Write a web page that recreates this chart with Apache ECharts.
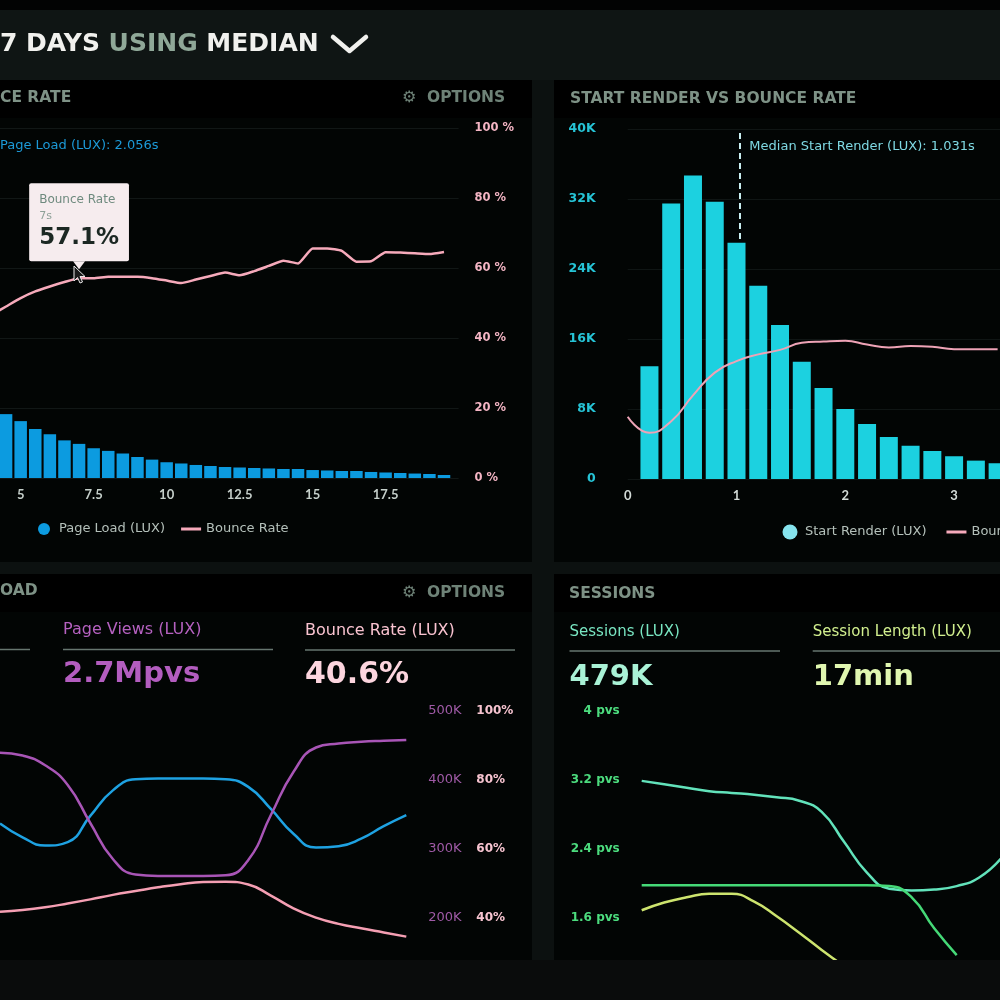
<!DOCTYPE html>
<html>
<head>
<meta charset="utf-8">
<script src="https://cdn.jsdelivr.net/npm/echarts@6.0.0/dist/echarts.min.js"></script>
<style>
html,body{margin:0;padding:0;background:#0c1110;}
#chart{width:1000px;height:1000px;}
</style>
</head>
<body>
<div id="chart"></div>
<script>
// ---------- Top-left: Page Load (LUX) distribution vs Bounce Rate ----------
const loadBins = [4.5,5,5.5,6,6.5,7,7.5,8,8.5,9,9.5,10,10.5,11,11.5,12,12.5,13,13.5,14,14.5,15,15.5,16,16.5,17,17.5,18,18.5,19,19.5];
const pageLoadsK = [7.3,6.5,5.6,5.0,4.3,3.9,3.4,3.1,2.8,2.4,2.1,1.8,1.66,1.49,1.37,1.26,1.2,1.14,1.09,1.03,1.03,0.91,0.86,0.8,0.8,0.69,0.63,0.57,0.51,0.46,0.34];
const bounceLoadSec = [4,4.5,5,5.5,6,6.5,7,7.5,8,8.5,9,9.5,10,10.5,11,11.5,12,12.5,13,13.5,14,14.5,15,15.5,16,16.5,17,17.5,18,18.5,19,19.5];
const bounceByLoad = [46.6,49.0,51.4,53.3,54.7,56.0,57.1,57.1,57.5,57.5,57.5,57.1,56.4,55.7,56.7,57.7,58.7,57.9,59.1,60.6,62.1,61.3,65.6,65.6,64.9,61.8,61.9,64.5,64.4,64.2,64.0,64.6];
const medianPageLoad = 2.056;
const tipSecond = 7;

// ---------- Top-right: Start Render vs Bounce Rate ----------
const startBins = [0.2,0.4,0.6,0.8,1.0,1.2,1.4,1.6,1.8,2.0,2.2,2.4,2.6,2.8,3.0,3.2,3.4];
const startRenderK = [12.9,31.5,34.7,31.7,27.0,22.1,17.6,13.4,10.4,8.0,6.3,4.8,3.8,3.2,2.6,2.1,1.8];
const bounceStartSec = [0,0.2,0.4,0.6,0.8,1.0,1.2,1.4,1.6,1.8,2.0,2.2,2.4,2.6,2.8,3.0,3.2,3.4];
const bounceByStart = [17.8,13.2,16.5,23.9,30.4,33.7,35.6,36.9,38.9,39.3,39.5,38.4,37.6,38.0,37.8,37.1,37.1,37.1];
const medianStartRender = 1.031;

// ---------- Bottom-left: Page Load / Page Views / Bounce Rate over time ----------
const periodsA = ['1','2','3','4','5','6','7','8','9','10','11','12','13','14','15','16','17','18','19'];
const pageLoadTrend = [2.37,2.17,2.05,2.10,2.48,2.85,3.01,3.02,3.02,3.02,3.01,2.90,2.58,2.22,2.02,2.04,2.15,2.33,2.49];
const pageViewsK = [439.6,435.5,421.3,392.8,337.7,285.5,263.0,260.9,260.9,260.9,261.9,284.1,349.3,411.6,447.1,452.9,455.4,456.8,458.0];
const bounceTrend = [41.8,42.3,43.1,44.2,45.4,46.7,47.8,48.9,49.8,50.4,50.5,49.7,46.5,42.8,40.1,38.3,37.0,35.8,34.6];
const kpiPageViews = '2.7Mpvs';
const kpiBounce = '40.6%';

// ---------- Bottom-right: Sessions ----------
const periodsB = ['1','2','3','4','5','6','7','8','9','10','11','12','13','14','15','16','17'];
const sessionsTrend = [3.19,3.15,3.11,3.07,3.05,3.03,3.00,2.96,2.83,2.48,2.13,1.94,1.92,1.93,1.97,2.07,2.30];
const pvsTrend = [1.98,1.98,1.98,1.98,1.98,1.98,1.98,1.98,1.98,1.98,1.98,1.97,1.84,1.48,1.17,null,null];
const sessionLengthTrend = [1.69,1.78,1.84,1.88,1.88,1.79,1.62,1.43,1.23,1.04,null,null,null,null,null,null,null];
const kpiSessions = '479K';
const kpiSessionLength = '17min';

const F = 'DejaVu Sans';
const pairs = (xs, ys) => xs.map((x, i) => [x, ys[i]]);
const tipValue = bounceByLoad[bounceLoadSec.indexOf(tipSecond)];

function T(x, y, text, size, color, weight, extra) {
  return Object.assign({
    type: 'text', x: x, y: y, z: 20,
    style: { text: text, fontSize: size, fontFamily: F, fontWeight: weight || 'normal', fill: color, verticalAlign: 'middle', align: 'left' }
  }, extra || {});
}
function R(x, y, w, h, fill, z) {
  return { type: 'rect', z: z == null ? -10 : z, shape: { x: x, y: y, width: w, height: h }, style: { fill: fill } };
}
function L(x1, y1, x2, y2, color, w) {
  return { type: 'line', z: 20, shape: { x1: x1, y1: y1, x2: x2, y2: y2 }, style: { stroke: color, lineWidth: w || 1.5 } };
}

const hdr = '#7e9286', opt = '#6e8277', ul = '#66766f';
const graphics = [
  R(0, 0, 1000, 1000, '#0c1110', -20),
  R(0, 0, 1000, 10, '#020303'),
  R(0, 10, 1000, 70, '#0f1514'),
  // panels
  R(0, 80, 532, 482, '#020504'), R(0, 80, 532, 38, '#000000'),
  R(554, 80, 446, 482, '#020504'), R(554, 80, 446, 38, '#000000'),
  R(0, 574, 532, 386, '#020504'), R(0, 574, 532, 38, '#000000'),
  R(554, 574, 446, 386, '#020504'), R(554, 574, 446, 38, '#000000'),
  // bottom strip overlay (clips lines leaving the panels)
  R(0, 960, 1000, 40, '#0a0c0c', 100),
  // page title
  { type: 'text', x: 0, y: 44, z: 20, style: {
      text: '{w|7 DAYS }{g|USING }{w|MEDIAN}', verticalAlign: 'middle',
      rich: {
        w: { fontSize: 25, fontWeight: 'bold', fontFamily: F, fill: '#f1f1ee' },
        g: { fontSize: 25, fontWeight: 'bold', fontFamily: F, fill: '#8fa898' }
      } } },
  { type: 'polyline', z: 20, shape: { points: [[333, 37], [349.5, 51], [366, 37]] },
    style: { stroke: '#f1f1ee', lineWidth: 4.5, fill: null, lineCap: 'round', lineJoin: 'round' } },
  // mouse cursor over the hovered point
  { type: 'polygon', z: 60, shape: { points: [[74, 266], [74, 281], [77.5, 277.5], [80, 283], [82.5, 282], [80, 276.5], [85, 276.5]] },
    style: { fill: '#1a1a1a', stroke: '#e8e8e8', lineWidth: 1 } },
  // panel headers
  T(0, 98, 'CE RATE', 15.5, hdr, 'bold'),
  T(402, 98, '\u2699', 16, opt, 'bold'), T(427, 98, 'OPTIONS', 15.5, opt, 'bold'),
  T(570, 99, 'START RENDER VS BOUNCE RATE', 15.5, hdr, 'bold'),
  T(0, 591, 'OAD', 15.5, hdr, 'bold'),
  T(402, 593, '\u2699', 16, opt, 'bold'), T(427, 593, 'OPTIONS', 15.5, opt, 'bold'),
  T(569, 593.5, 'SESSIONS', 15.5, hdr, 'bold'),
  // top-left annotation
  T(0, 145.5, 'Page Load (LUX): ' + medianPageLoad + 's', 13, '#1c9ad8'),
  // bottom-left KPIs
  L(0, 649.5, 30, 649.5, ul),
  T(63, 630, 'Page Views (LUX)', 16, '#b561c0'),
  L(63, 649.5, 273, 649.5, ul),
  T(63, 674.5, kpiPageViews, 29, '#b35dbf', 'bold'),
  T(305, 631, 'Bounce Rate (LUX)', 16, '#f9c3d0'),
  L(305, 650, 515, 650, ul),
  T(305, 675, kpiBounce, 30, '#fcd5de', 'bold'),
  // bottom-right KPIs
  T(569.5, 632, 'Sessions (LUX)', 15, '#79e6c2'),
  L(569.5, 651, 780, 651, ul),
  T(569.5, 677.5, kpiSessions, 29, '#a9f2d6', 'bold'),
  T(812.7, 632, 'Session Length (LUX)', 15, '#d2f08f'),
  L(812.7, 651, 1000, 651, ul),
  T(812.7, 677.5, kpiSessionLength, 29, '#e0f7b0', 'bold')
];

const noAxisLine = { show: false };
const option = {
  backgroundColor: '#0c1110',
  animation: false,
  graphic: { elements: graphics },
  legend: [
    {
      left: 33, top: 517.5, width: 420, itemWidth: 20, itemHeight: 12, itemGap: 16,
      textStyle: { color: '#b4c0ba', fontSize: 13, fontFamily: F },
      data: [
        { name: 'Page Load (LUX)', icon: 'circle', itemStyle: { color: '#0c9be0' } },
        { name: 'Bounce Rate', icon: 'path://M0,0H20V3H0Z', itemStyle: { color: '#f6aabb' } }
      ]
    },
    {
      left: 777.5, top: 519.5, width: 420, itemWidth: 20, itemHeight: 15, itemGap: 20,
      textStyle: { color: '#b4c0ba', fontSize: 13, fontFamily: F },
      data: [
        { name: 'Start Render (LUX)', icon: 'circle', itemStyle: { color: '#86e4ee' } },
        { name: 'Bounce Rate', icon: 'path://M0,0H20V3H0Z', itemStyle: { color: '#f6aabb' } }
      ]
    }
  ],
  grid: [
    { left: -125.3, right: 541.4, top: 128, bottom: 522, outerBoundsMode: 'none' },
    { left: 627.7, right: -62.9, top: 129, bottom: 521, outerBoundsMode: 'none' },
    { left: 0, right: 593.7, top: 711, bottom: 13, outerBoundsMode: 'none' },
    { left: 641.7, right: -1.7, top: 711, bottom: 13, outerBoundsMode: 'none' }
  ],
  xAxis: [
    { gridIndex: 0, type: 'value', min: 0, max: 20, interval: 2.5,
      axisLine: noAxisLine, axisTick: { show: false }, splitLine: { show: false },
      axisLabel: { color: '#c5cfca', fontFamily: 'Lato', fontWeight: 'bold', fontSize: 13, margin: 10, showMaxLabel: false } },
    { gridIndex: 1, type: 'value', min: 0, max: 4, interval: 1,
      axisLine: noAxisLine, axisTick: { show: false }, splitLine: { show: false },
      axisLabel: { color: '#d3dbd7', fontFamily: 'Lato', fontWeight: 'bold', fontSize: 13, margin: 10, showMaxLabel: false } },
    { gridIndex: 2, type: 'category', data: periodsA, boundaryGap: false, show: false },
    { gridIndex: 3, type: 'category', data: periodsB, boundaryGap: false, show: false }
  ],
  yAxis: [
    { gridIndex: 0, type: 'value', position: 'right', min: 0, max: 100, interval: 20,
      axisLine: noAxisLine, axisTick: { show: false },
      splitLine: { lineStyle: { color: '#111716', width: 1 } },
      axisLabel: { formatter: '{value} %', color: '#f4b5c4', fontFamily: F, fontWeight: 'bold', fontSize: 11.5, margin: 16 } },
    { gridIndex: 0, type: 'value', min: 0, max: 40, show: false },
    { gridIndex: 1, type: 'value', position: 'left', min: 0, max: 40, interval: 8,
      axisLine: noAxisLine, axisTick: { show: false },
      splitLine: { lineStyle: { color: '#0f1514', width: 1 } },
      axisLabel: { formatter: v => v === 0 ? '0' : v + 'K', color: '#26c4d6', fontFamily: F, fontWeight: 'bold', fontSize: 12.5, margin: 32 } },
    { gridIndex: 1, type: 'value', position: 'right', min: 0, max: 100, show: false },
    { gridIndex: 2, type: 'value', position: 'right', min: 100, max: 500, interval: 100,
      axisLine: noAxisLine, axisTick: { show: false }, splitLine: { show: false },
      axisLabel: { formatter: '{value}K', showMinLabel: false, color: '#9f5aa6', fontFamily: F, fontSize: 13, margin: 22 } },
    { gridIndex: 2, type: 'value', position: 'right', offset: 48, min: 20, max: 100, interval: 20,
      axisLine: noAxisLine, axisTick: { show: false }, splitLine: { show: false },
      axisLabel: { formatter: '{value}%', showMinLabel: false, color: '#f7c4d0', fontFamily: F, fontWeight: 'bold', fontSize: 12, margin: 22 } },
    { gridIndex: 2, type: 'value', min: 0, max: 4, show: false },
    { gridIndex: 3, type: 'value', position: 'left', min: 0.8, max: 4, interval: 0.8,
      axisLine: noAxisLine, axisTick: { show: false }, splitLine: { show: false },
      axisLabel: { formatter: v => Number(v.toFixed(1)) + ' pvs', showMinLabel: false, color: '#4cdc7e', fontFamily: F, fontWeight: 'bold', fontSize: 12, margin: 22 } }
  ],
  series: [
    { name: 'Page Load (LUX)', type: 'bar', xAxisIndex: 0, yAxisIndex: 1, barWidth: 12.5, z: 2,
      itemStyle: { color: '#0c9be0' }, data: pairs(loadBins, pageLoadsK) },
    { name: 'Bounce Rate', type: 'line', xAxisIndex: 0, yAxisIndex: 0, z: 3, smooth: 0.15,
      showSymbol: false, lineStyle: { color: '#f6aabb', width: 2.5 }, itemStyle: { color: '#f6aabb' },
      data: pairs(bounceLoadSec, bounceByLoad),
      markPoint: {
        z: 10, symbol: 'triangle', symbolRotate: 180, symbolSize: [12, 8], symbolOffset: [0, -13],
        itemStyle: { color: '#f6ecee' },
        label: {
          show: true, position: 'top', distance: 0,
          backgroundColor: '#f6ecee', borderRadius: 2, padding: [9, 10, 8, 10],
          formatter: () => '{a|Bounce Rate}\n{b|' + tipSecond + 's}\n{c|' + tipValue.toFixed(1) + '%}',
          rich: {
            a: { fontFamily: F, fontSize: 12, color: '#6e8a7e', lineHeight: 16, align: 'left' },
            b: { fontFamily: F, fontSize: 11, color: '#8ea198', lineHeight: 15, align: 'left' },
            c: { fontFamily: F, fontSize: 23, fontWeight: 'bold', color: '#1c2823', lineHeight: 30, align: 'left' }
          }
        },
        data: [{ coord: [tipSecond, tipValue] }]
      } },
    { name: 'Start Render (LUX)', type: 'bar', xAxisIndex: 1, yAxisIndex: 2, barWidth: 18, z: 2,
      itemStyle: { color: '#1cd1e0' }, data: pairs(startBins, startRenderK) },
    { name: 'Bounce Rate', type: 'line', xAxisIndex: 1, yAxisIndex: 3, z: 3, smooth: true,
      showSymbol: false, lineStyle: { color: '#eea3b6', width: 2 }, itemStyle: { color: '#f6aabb' },
      data: pairs(bounceStartSec, bounceByStart),
      markLine: {
        z: 1, symbol: 'none', silent: true,
        lineStyle: { color: '#c8eef0', width: 2, type: [6, 4] },
        label: { show: false },
        data: [{ xAxis: medianStartRender }]
      },
      markPoint: {
        z: 10, symbol: 'rect', symbolSize: 1, itemStyle: { color: 'rgba(0,0,0,0)' },
        label: { show: true, position: 'right', distance: 9, color: '#7fd9e3', fontFamily: F, fontSize: 13,
          formatter: () => 'Median Start Render (LUX): ' + medianStartRender + 's' },
        data: [{ coord: [medianStartRender, 94.9] }]
      } },
    { name: 'Page Load (LUX) trend', type: 'line', xAxisIndex: 2, yAxisIndex: 6, smooth: true, showSymbol: false,
      lineStyle: { color: '#1ea2e2', width: 2.5 }, data: pageLoadTrend },
    { name: 'Page Views (LUX)', type: 'line', xAxisIndex: 2, yAxisIndex: 4, smooth: true, showSymbol: false,
      lineStyle: { color: '#a855b6', width: 2.5 }, data: pageViewsK },
    { name: 'Bounce Rate (LUX)', type: 'line', xAxisIndex: 2, yAxisIndex: 5, smooth: true, showSymbol: false,
      lineStyle: { color: '#f59fb3', width: 2.5 }, data: bounceTrend },
    { name: 'Sessions (LUX)', type: 'line', xAxisIndex: 3, yAxisIndex: 7, smooth: true, showSymbol: false,
      lineStyle: { color: '#62e3bb', width: 2.5 }, data: sessionsTrend },
    { name: 'Pages per Session (LUX)', type: 'line', xAxisIndex: 3, yAxisIndex: 7, smooth: true, showSymbol: false,
      lineStyle: { color: '#45d977', width: 2.5 }, data: pvsTrend },
    { name: 'Session Length (LUX)', type: 'line', xAxisIndex: 3, yAxisIndex: 7, smooth: true, showSymbol: false,
      lineStyle: { color: '#cde46e', width: 2.5 }, data: sessionLengthTrend }
  ]
};

const chart = echarts.init(document.getElementById('chart'), null, { renderer: 'canvas', width: 1000, height: 1000 });
chart.setOption(option);
</script>
</body>
</html>
